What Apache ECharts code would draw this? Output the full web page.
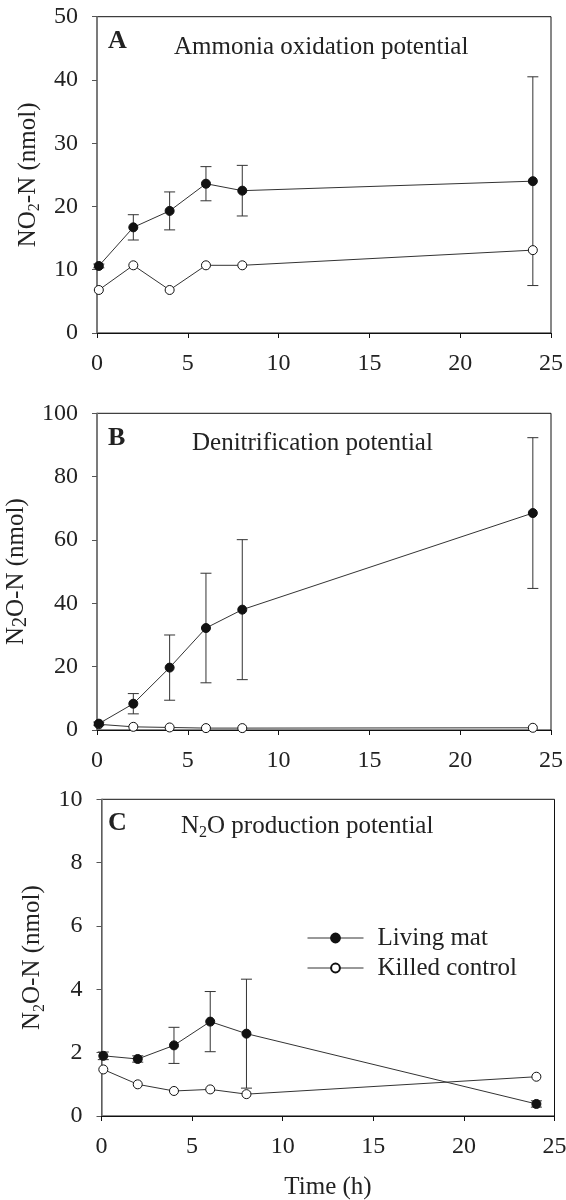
<!DOCTYPE html>
<html>
<head>
<meta charset="utf-8">
<script src="https://cdn.jsdelivr.net/npm/echarts@6/dist/echarts.min.js"></script>
<style>
html, body { margin: 0; padding: 0; background: #fff; }
#main { width: 566px; height: 1200px; }
</style>
</head>
<body>
<div id="main"></div>
<script>
// sampling times (h)
var times = [0.1, 2, 4, 6, 8, 24];

// A - ammonia oxidation potential, NO2-N (nmol)
var ammLiving = [10.6, 16.7, 19.3, 23.6, 22.5, 24.0];
var ammLivingSd = [0.3, 2.0, 3.0, 2.7, 4.0, 16.5];
var ammKilled = [6.8, 10.7, 6.8, 10.7, 10.7, 13.1];

// B - denitrification potential, N2O-N (nmol)
var denLiving = [2.0, 8.3, 19.7, 32.2, 38.0, 68.5];
var denLivingSd = [0.5, 3.2, 10.3, 17.3, 22.1, 23.8];
var denKilled = [1.8, 1.0, 0.8, 0.6, 0.6, 0.7];

// C - N2O production potential, N2O-N (nmol)
var n2oLiving = [1.9, 1.8, 2.23, 2.98, 2.6, 0.38];
var n2oLivingSd = [0.12, 0.1, 0.57, 0.95, 1.72, 0.1];
var n2oKilled = [1.47, 1.0, 0.79, 0.84, 0.69, 1.24];

var xTicks = [0, 5, 10, 15, 20, 25];

(function(){
	var myChart = echarts.init(document.getElementById("main"));
	var FONT = 'Liberation Serif';
	var INK = '#222';

	function pairs(xs, ys) {
		return xs.map(function (x, i) { return [x, ys[i]]; });
	}
	function errData(xs, ys, sd) {
		return xs.map(function (x, i) { return [x, ys[i] - sd[i], ys[i] + sd[i]]; });
	}
	function errSeries(idx, xs, ys, sd) {
		return {
			type: 'custom',
			xAxisIndex: idx,
			yAxisIndex: idx,
			z: 1,
			silent: true,
			data: errData(xs, ys, sd),
			renderItem: function (params, api) {
				var lo = api.coord([api.value(0), api.value(1)]);
				var hi = api.coord([api.value(0), api.value(2)]);
				var w = 5.5;
				var st = { stroke: '#333', lineWidth: 1 };
				return {
					type: 'group',
					children: [
						{ type: 'line', shape: { x1: lo[0], y1: lo[1], x2: hi[0], y2: hi[1] }, style: st },
						{ type: 'line', shape: { x1: lo[0] - w, y1: lo[1], x2: lo[0] + w, y2: lo[1] }, style: st },
						{ type: 'line', shape: { x1: hi[0] - w, y1: hi[1], x2: hi[0] + w, y2: hi[1] }, style: st }
					]
				};
			}
		};
	}
	function lineSeries(idx, name, xs, ys, open) {
		return {
			name: name,
			type: 'line',
			xAxisIndex: idx,
			yAxisIndex: idx,
			z: 3,
			data: pairs(xs, ys),
			symbol: 'circle',
			symbolSize: 9,
			showAllSymbol: true,
			lineStyle: { color: '#333', width: 1 },
			itemStyle: open
				? { color: '#fff', borderColor: '#111', borderWidth: 1 }
				: { color: '#111', borderColor: '#111', borderWidth: 1 },
			emphasis: { disabled: true }
		};
	}
	function xAx(idx, withName) {
		return {
			type: 'value',
			gridIndex: idx,
			min: 0, max: 25, interval: 5,
			name: withName ? 'Time (h)' : '',
			nameLocation: 'middle',
			nameGap: 59,
			nameTextStyle: { fontFamily: FONT, fontSize: 25, color: INK },
			axisLine: { show: true, lineStyle: { color: '#111', width: 1 } },
			axisTick: { show: true, inside: false, length: 5, lineStyle: { color: '#111' } },
			axisLabel: { fontFamily: FONT, fontSize: 24, color: INK, margin: 19,
				customValues: xTicks },
			splitLine: { show: false }
		};
	}
	function yAx(idx, max, interval, name, gap, subSize, subLh) {
		return {
			type: 'value',
			gridIndex: idx,
			min: 0, max: max, interval: interval,
			name: name,
			nameLocation: 'middle',
			nameRotate: 90,
			nameGap: gap,
			nameTextStyle: {
				fontFamily: FONT, fontSize: 25, color: INK,
				rich: {
					a: { fontFamily: FONT, fontSize: 25, color: INK, lineHeight: 30 },
					s: { fontFamily: FONT, fontSize: subSize, color: INK, lineHeight: subLh, verticalAlign: 'bottom' }
				}
			},
			axisLine: { show: true, lineStyle: { color: '#777', width: 1.5 } },
			axisTick: { show: true, inside: false, length: 5, lineStyle: { color: '#555' } },
			axisLabel: { fontFamily: FONT, fontSize: 24, color: INK, margin: 19 },
			splitLine: { show: false }
		};
	}
	function grid(left, right, top, height) {
		return { left: left, right: right, top: top, height: height,
			outerBoundsMode: 'none', containLabel: false,
			show: true, borderColor: '#111', borderWidth: 1, backgroundColor: 'transparent' };
	}
	function txt(x, y, text, bold, rich) {
		return {
			type: 'text', x: x, y: y, silent: true, z: 10,
			style: {
				text: text,
				font: (bold ? 'bold 26px "' : '25px "') + FONT + '"',
				fill: INK,
				align: 'left',
				verticalAlign: 'middle',
				rich: rich
			}
		};
	}
	var subRich = {
		a: { fontFamily: FONT, fontSize: 25, color: INK, lineHeight: 30 },
		s: { fontFamily: FONT, fontSize: 16, color: INK, lineHeight: 20, verticalAlign: 'bottom' }
	};

	option = {
		backgroundColor: '#fff',
		animation: false,
		grid: [
			grid(97, 15, 16.7, 316.3),
			grid(97, 15, 413.3, 316.7),
			grid(101.5, 11.5, 799.3, 316.7)
		],
		xAxis: [xAx(0, false), xAx(1, false), xAx(2, true)],
		yAxis: [
			yAx(0, 50, 10, '{a|NO}{s|2}{a|-N (nmol)}', 45, 16, 20),
			yAx(1, 100, 20, '{a|N}{s|2}{a|O-N (nmol)}', 56, 20, 26),
			yAx(2, 10, 2, '{a|N}{s|2}{a|O-N (nmol)}', 43, 16, 20)
		],
		legend: {
			orient: 'vertical',
			left: 307, top: 923,
			padding: 0,
			itemGap: 0,
			itemWidth: 56,
			itemHeight: 11,
			selectedMode: false,
			data: ['Living mat', 'Killed control'],
			lineStyle: { width: 1, color: '#333' },
			textStyle: { fontFamily: FONT, fontSize: 25, color: INK, lineHeight: 30, padding: [0, 0, 0, 9] }
		},
		graphic: [
			txt(108, 41, 'A', true),
			txt(174, 47, 'Ammonia oxidation potential', false),
			txt(108, 438, 'B', true),
			txt(192, 443, 'Denitrification potential', false),
			txt(108, 823, 'C', true),
			txt(181, 826, '{a|N}{s|2}{a|O production potential}', false, subRich)
		],
		series: [
			errSeries(0, times, ammLiving, ammLivingSd),
			lineSeries(0, 'Killed control', times, ammKilled, true),
			lineSeries(0, 'Living mat', times, ammLiving, false),

			errSeries(1, times, denLiving, denLivingSd),
			lineSeries(1, 'Killed control', times, denKilled, true),
			lineSeries(1, 'Living mat', times, denLiving, false),

			errSeries(2, times, n2oLiving, n2oLivingSd),
			lineSeries(2, 'Killed control', times, n2oKilled, true),
			lineSeries(2, 'Living mat', times, n2oLiving, false)
		]
	};
	myChart.setOption(option);
})();
</script>
</body>
</html>
